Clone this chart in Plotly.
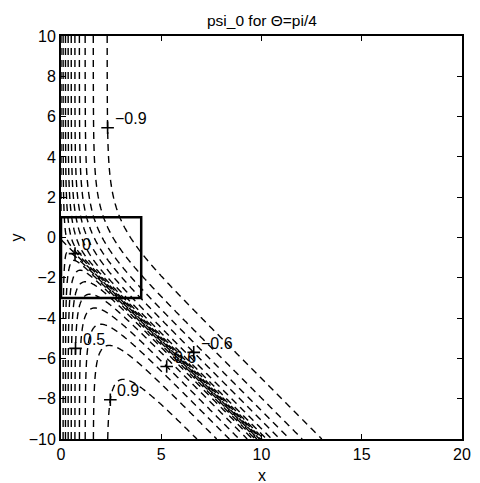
import numpy as np
import plotly.graph_objects as go

# Axes
x_range = [0, 20]
y_range = [-10, 10]
x_ticks = [0, 5, 10, 15, 20]
y_ticks = [-10, -8, -6, -4, -2, 0, 2, 4, 6, 8, 10]

# Contour levels of psi_0
level_start = -0.9
level_end = 0.9
level_step = 0.1

# Field parameters: incidence angle and shadow-boundary profile
theta = np.pi / 4
boundary_offset = 0.1
core_weight = 0.35
core_width = 0.25
tail_width = 2.5
wall_decay = 1.0

# Inner window outline
box_x = [0, 4, 4, 0, 0]
box_y = [1, 1, -3, -3, 1]

# Labelled contours: value, row (y) on which the label sits, and a guess for x
label_values = [-0.9, 0.0, 0.5, 0.9, -0.6, 0.6]
label_rows = [5.45, -0.8, -5.5, -8.05, -5.7, -6.4]
label_guess_x = [2.3, 0.6, 0.7, 2.4, 7.0, 5.2]


def psi0(x, y):
    d = x + y * np.tan(theta) + boundary_offset
    s = core_weight * np.tanh(d / core_width) + (1 - core_weight) * np.tanh(d / tail_width)
    return -(1.0 - np.exp(-x / wall_decay)) * s


gx = np.concatenate([np.linspace(0, 4, 161), np.linspace(4.04, 20, 400)])
gy = np.linspace(-10, 10, 501)
GX, GY = np.meshgrid(gx, gy)
Z = psi0(GX, GY)


def crossing_x(level, row, guess):
    xs = np.linspace(0.001, 20, 20001)
    f = psi0(xs, np.full_like(xs, row)) - level
    idx = np.where(np.sign(f[:-1]) != np.sign(f[1:]))[0]
    roots = xs[idx] - f[idx] * (xs[idx + 1] - xs[idx]) / (f[idx + 1] - f[idx])
    return float(roots[np.argmin(np.abs(roots - guess))])


label_x = [crossing_x(v, r, g) for v, r, g in zip(label_values, label_rows, label_guess_x)]

font_family = "Liberation Sans, Arial, Helvetica, sans-serif"

fig = go.Figure()
fig.add_trace(go.Contour(
    x=gx, y=gy, z=Z,
    contours=dict(start=level_start, end=level_end + 1e-9, size=level_step, coloring="lines"),
    colorscale=[[0, "black"], [1, "black"]],
    showscale=False,
    line=dict(width=1.4, dash="7px,5px"),
    hoverinfo="skip",
))
fig.add_trace(go.Scatter(
    x=box_x, y=box_y, mode="lines",
    line=dict(color="black", width=2.5),
    hoverinfo="skip", showlegend=False,
))
fig.add_trace(go.Scatter(
    x=label_x, y=label_rows, mode="markers",
    marker=dict(symbol="cross-thin", size=9, line=dict(color="black", width=1.6)),
    hoverinfo="skip", showlegend=False,
))


def fmt(v):
    if abs(v) < 1e-12:
        return "0"
    return ("\u2212" if v < 0 else "") + f"{abs(v):g}"


for v, lx, ly in zip(label_values, label_x, label_rows):
    fig.add_annotation(
        x=lx, y=ly, text=fmt(v), showarrow=False,
        xanchor="left", yanchor="middle", xshift=5, yshift=9,
        font=dict(family=font_family, size=16, color="black"),
    )

fig.add_annotation(
    xref="paper", yref="paper", x=0.5, y=(439 - 20) / 403,
    text="psi_0 for \u0398=pi/4", showarrow=False,
    xanchor="center", yanchor="middle",
    font=dict(family=font_family, size=15.5, color="black"),
)
fig.add_annotation(
    xref="paper", yref="paper", x=0.5, y=-36 / 403,
    text="x", showarrow=False, xanchor="center", yanchor="middle",
    font=dict(family=font_family, size=16, color="black"),
)
fig.add_annotation(
    xref="paper", yref="paper", x=-46 / 410, y=0.5,
    text="y", showarrow=False, xanchor="center", yanchor="middle", textangle=-90,
    font=dict(family=font_family, size=16, color="black"),
)

axis_common = dict(
    showgrid=False, zeroline=False, showline=True, linecolor="black", linewidth=2,
    mirror="ticks", ticks="inside", ticklen=5, tickwidth=1.3, tickcolor="black",
    tickfont=dict(family=font_family, size=16, color="black"),
)
fig.update_layout(
    width=480, height=483, autosize=False,
    margin=dict(l=61, r=9, t=36, b=44),
    paper_bgcolor="white", plot_bgcolor="white",
    showlegend=False,
    xaxis=dict(range=x_range, tickvals=x_ticks, **axis_common),
    yaxis=dict(range=y_range, tickvals=y_ticks, **axis_common),
)

fig.write_html("out.html", config={"displayModeBar": False})
